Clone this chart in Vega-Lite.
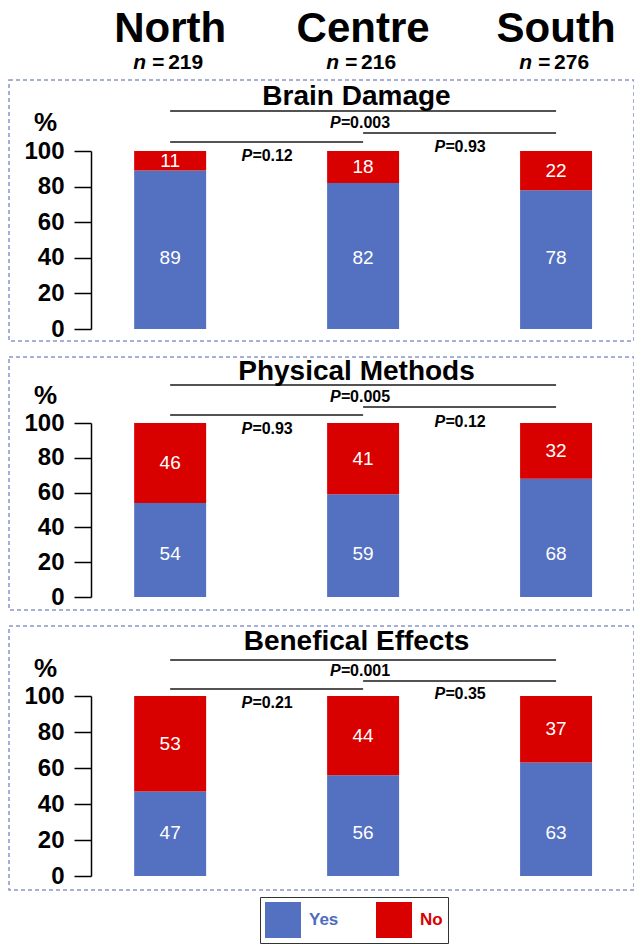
{
  "$schema": "https://vega.github.io/schema/vega-lite/v6.json",
  "padding": {"left": 8, "top": 0, "right": 0, "bottom": 0},
  "spacing": 16,
  "bounds": "flush",
  "config": {
    "font": "Liberation Sans",
    "view": {"stroke": "#8797cc", "strokeDash": [4, 3], "strokeWidth": 1.5},
    "axisX": {"disable": true},
    "axis": {"grid": false}
  },
  "resolve": {"scale": {"y": "independent", "color": "independent"}},
  "datasets": {
    "regions": [
      {"region": "North", "n": 219},
      {"region": "Centre", "n": 216},
      {"region": "South", "n": 276}
    ],
    "bars": [
      {"panel": "Brain Damage", "region": "North", "resp": "Yes", "pct": 89},
      {"panel": "Brain Damage", "region": "North", "resp": "No", "pct": 11},
      {"panel": "Brain Damage", "region": "Centre", "resp": "Yes", "pct": 82},
      {"panel": "Brain Damage", "region": "Centre", "resp": "No", "pct": 18},
      {"panel": "Brain Damage", "region": "South", "resp": "Yes", "pct": 78},
      {"panel": "Brain Damage", "region": "South", "resp": "No", "pct": 22},
      {"panel": "Physical Methods", "region": "North", "resp": "Yes", "pct": 54},
      {"panel": "Physical Methods", "region": "North", "resp": "No", "pct": 46},
      {"panel": "Physical Methods", "region": "Centre", "resp": "Yes", "pct": 59},
      {"panel": "Physical Methods", "region": "Centre", "resp": "No", "pct": 41},
      {"panel": "Physical Methods", "region": "South", "resp": "Yes", "pct": 68},
      {"panel": "Physical Methods", "region": "South", "resp": "No", "pct": 32},
      {"panel": "Benefical Effects", "region": "North", "resp": "Yes", "pct": 47},
      {"panel": "Benefical Effects", "region": "North", "resp": "No", "pct": 53},
      {"panel": "Benefical Effects", "region": "Centre", "resp": "Yes", "pct": 56},
      {"panel": "Benefical Effects", "region": "Centre", "resp": "No", "pct": 44},
      {"panel": "Benefical Effects", "region": "South", "resp": "Yes", "pct": 63},
      {"panel": "Benefical Effects", "region": "South", "resp": "No", "pct": 37}
    ],
    "pvals": [
      {"panel": "Brain Damage", "from": "North", "to": "Centre", "p": "0.12"},
      {"panel": "Brain Damage", "from": "Centre", "to": "South", "p": "0.93"},
      {"panel": "Brain Damage", "from": "North", "to": "South", "p": "0.003"},
      {"panel": "Physical Methods", "from": "North", "to": "Centre", "p": "0.93"},
      {"panel": "Physical Methods", "from": "Centre", "to": "South", "p": "0.12"},
      {"panel": "Physical Methods", "from": "North", "to": "South", "p": "0.005"},
      {"panel": "Benefical Effects", "from": "North", "to": "Centre", "p": "0.21"},
      {"panel": "Benefical Effects", "from": "Centre", "to": "South", "p": "0.35"},
      {"panel": "Benefical Effects", "from": "North", "to": "South", "p": "0.001"}
    ]
  },
  "vconcat": [
    {
      "width": 625,
      "height": 64,
      "view": {"stroke": null},
      "data": {"name": "regions"},
      "layer": [
        {
          "mark": {"type": "text", "fontSize": 42, "fontWeight": "bold", "baseline": "alphabetic", "dy": 10, "color": "black"},
          "encoding": {
            "x": {"field": "region", "type": "nominal", "scale": {"type": "band", "domain": ["North", "N-C", "Centre", "C-S", "South"], "paddingInner": 0.254, "paddingOuter": 0.866, "align": 0.749}},
            "text": {"field": "region"}
          }
        },
        {
          "mark": {"type": "text", "text": "n =", "fontSize": 21, "fontWeight": "bold", "fontStyle": "italic", "align": "right", "baseline": "alphabetic", "dx": -6, "dy": 37, "color": "black"},
          "encoding": {"x": {"field": "region", "type": "nominal"}}
        },
        {
          "mark": {"type": "text", "fontSize": 21, "fontWeight": "bold", "align": "left", "baseline": "alphabetic", "dx": -2, "dy": 37, "color": "black"},
          "encoding": {"x": {"field": "region", "type": "nominal"}, "text": {"field": "n"}}
        }
      ]
    },
    {
      "width": 625,
      "height": 261,
      "title": {"text": "Brain Damage", "anchor": "middle", "dx": 35, "offset": -53, "baseline": "alphabetic", "fontSize": 28, "fontWeight": "bold", "color": "black"},
      "layer": [
        {
          "data": {"name": "bars"},
          "transform": [{"filter": "datum.panel === 'Brain Damage'"}],
          "layer": [
            {
              "mark": {"type": "bar"},
              "encoding": {
                "x": {"field": "region", "type": "nominal", "scale": {"type": "band", "domain": ["North", "N-C", "Centre", "C-S", "South"], "paddingInner": 0.254, "paddingOuter": 0.866, "align": 0.749}},
                "y": {"field": "pct", "type": "quantitative", "stack": "zero",
                  "scale": {"domain": [0, 100], "range": [249, 71], "nice": false},
                  "axis": {"values": [0, 10, 20, 30, 40, 50, 60, 70, 80, 90, 100], "offset": -82, "domainColor": "black", "domainWidth": 1.5, "tickColor": "black", "tickWidth": 1.5, "tickSize": 17, "tickDash": {"condition": {"test": "datum.value % 20 !== 0", "value": [10, 20]}, "value": []}, "labelExpr": "datum.value % 20 === 0 ? datum.label : ''", "labelOverlap": false, "labelFontSize": 24, "labelFontWeight": "bold", "labelColor": "black", "labelPadding": 10, "title": "%", "titleAngle": 0, "titleFontSize": 26, "titleFontWeight": "bold", "titleColor": "black", "titleAlign": "center", "titleBaseline": "middle", "titleX": -46, "titleY": 42}},
                "color": {"field": "resp", "type": "nominal", "scale": {"domain": ["Yes", "No"], "range": ["#5470c1", "#d90000"]}, "legend": null},
                "order": {"field": "resp", "sort": "descending"}
              }
            },
            {
              "mark": {"type": "text", "fontSize": 19, "color": "white", "baseline": "middle"},
              "encoding": {
                "x": {"field": "region", "type": "nominal"},
                "y": {"field": "pct", "type": "quantitative", "stack": "zero", "bandPosition": 0.5},
                "detail": {"field": "resp"},
                "order": {"field": "resp", "sort": "descending"},
                "text": {"condition": {"test": "datum.resp === 'No'", "field": "pct", "type": "quantitative"}, "value": ""}
              }
            },
            {
              "transform": [{"filter": "datum.resp === 'Yes'"}],
              "mark": {"type": "text", "fontSize": 19, "color": "white", "baseline": "middle"},
              "encoding": {
                "x": {"field": "region", "type": "nominal"},
                "y": {"datum": 40},
                "text": {"field": "pct", "type": "quantitative"}
              }
            }
          ]
        },
        {
          "data": {"name": "pvals"},
          "transform": [{"filter": "datum.panel === 'Brain Damage' && datum.from === 'North' && datum.to === 'South'"}],
          "layer": [
            {"mark": {"type": "rule", "strokeWidth": 1.5, "color": "#1a1a1a"}, "encoding": {"x": {"field": "from", "type": "nominal"}, "x2": {"field": "to"}, "y": {"datum": 122.5}}},
            {"mark": {"type": "text", "text": "P=", "fontSize": 16, "fontWeight": "bold", "fontStyle": "italic", "align": "right", "baseline": "middle", "dx": -13, "color": "black"}, "encoding": {"x": {"datum": "Centre"}, "y": {"datum": 115.7}}},
            {"mark": {"type": "text", "fontSize": 16, "fontWeight": "bold", "align": "left", "baseline": "middle", "dx": -13, "color": "black"}, "encoding": {"x": {"datum": "Centre"}, "y": {"datum": 115.7}, "text": {"field": "p"}}}
          ]
        },
        {
          "data": {"name": "pvals"},
          "transform": [{"filter": "datum.panel === 'Brain Damage' && datum.from === 'Centre' && datum.to === 'South'"}],
          "layer": [
            {"mark": {"type": "rule", "strokeWidth": 1.5, "color": "#1a1a1a"}, "encoding": {"x": {"field": "from", "type": "nominal"}, "x2": {"field": "to"}, "y": {"datum": 110.1}}},
            {"mark": {"type": "text", "text": "P=", "fontSize": 16, "fontWeight": "bold", "fontStyle": "italic", "align": "right", "baseline": "middle", "dx": -5, "color": "black"}, "encoding": {"x": {"datum": "C-S"}, "y": {"datum": 102.2}}},
            {"mark": {"type": "text", "fontSize": 16, "fontWeight": "bold", "align": "left", "baseline": "middle", "dx": -5, "color": "black"}, "encoding": {"x": {"datum": "C-S"}, "y": {"datum": 102.2}, "text": {"field": "p"}}}
          ]
        },
        {
          "data": {"name": "pvals"},
          "transform": [{"filter": "datum.panel === 'Brain Damage' && datum.from === 'North' && datum.to === 'Centre'"}],
          "layer": [
            {"mark": {"type": "rule", "strokeWidth": 1.5, "color": "#1a1a1a"}, "encoding": {"x": {"field": "from", "type": "nominal"}, "x2": {"field": "to"}, "y": {"datum": 105.1}}},
            {"mark": {"type": "text", "text": "P=", "fontSize": 16, "fontWeight": "bold", "fontStyle": "italic", "align": "right", "baseline": "middle", "dx": -5, "color": "black"}, "encoding": {"x": {"datum": "N-C"}, "y": {"datum": 97.2}}},
            {"mark": {"type": "text", "fontSize": 16, "fontWeight": "bold", "align": "left", "baseline": "middle", "dx": -5, "color": "black"}, "encoding": {"x": {"datum": "N-C"}, "y": {"datum": 97.2}, "text": {"field": "p"}}}
          ]
        }
      ]
    },
    {
      "width": 625,
      "height": 253,
      "title": {"text": "Physical Methods", "anchor": "middle", "dx": 35, "offset": -51, "baseline": "alphabetic", "fontSize": 28, "fontWeight": "bold", "color": "black"},
      "layer": [
        {
          "data": {"name": "bars"},
          "transform": [{"filter": "datum.panel === 'Physical Methods'"}],
          "layer": [
            {
              "mark": {"type": "bar"},
              "encoding": {
                "x": {"field": "region", "type": "nominal", "scale": {"type": "band", "domain": ["North", "N-C", "Centre", "C-S", "South"], "paddingInner": 0.254, "paddingOuter": 0.866, "align": 0.749}},
                "y": {"field": "pct", "type": "quantitative", "stack": "zero",
                  "scale": {"domain": [0, 100], "range": [240, 66], "nice": false},
                  "axis": {"values": [0, 10, 20, 30, 40, 50, 60, 70, 80, 90, 100], "offset": -82, "domainColor": "black", "domainWidth": 1.5, "tickColor": "black", "tickWidth": 1.5, "tickSize": 17, "tickDash": {"condition": {"test": "datum.value % 20 !== 0", "value": [10, 20]}, "value": []}, "labelExpr": "datum.value % 20 === 0 ? datum.label : ''", "labelOverlap": false, "labelFontSize": 24, "labelFontWeight": "bold", "labelColor": "black", "labelPadding": 10, "title": "%", "titleAngle": 0, "titleFontSize": 26, "titleFontWeight": "bold", "titleColor": "black", "titleAlign": "center", "titleBaseline": "middle", "titleX": -46, "titleY": 38}},
                "color": {"field": "resp", "type": "nominal", "scale": {"domain": ["Yes", "No"], "range": ["#5470c1", "#d90000"]}, "legend": null},
                "order": {"field": "resp", "sort": "descending"}
              }
            },
            {
              "mark": {"type": "text", "fontSize": 19, "color": "white", "baseline": "middle"},
              "encoding": {
                "x": {"field": "region", "type": "nominal"},
                "y": {"field": "pct", "type": "quantitative", "stack": "zero", "bandPosition": 0.5},
                "detail": {"field": "resp"},
                "order": {"field": "resp", "sort": "descending"},
                "text": {"condition": {"test": "datum.resp === 'No'", "field": "pct", "type": "quantitative"}, "value": ""}
              }
            },
            {
              "transform": [{"filter": "datum.resp === 'Yes'"}],
              "mark": {"type": "text", "fontSize": 19, "color": "white", "baseline": "middle"},
              "encoding": {
                "x": {"field": "region", "type": "nominal"},
                "y": {"datum": 24.7},
                "text": {"field": "pct", "type": "quantitative"}
              }
            }
          ]
        },
        {
          "data": {"name": "pvals"},
          "transform": [{"filter": "datum.panel === 'Physical Methods' && datum.from === 'North' && datum.to === 'South'"}],
          "layer": [
            {"mark": {"type": "rule", "strokeWidth": 1.5, "color": "#1a1a1a"}, "encoding": {"x": {"field": "from", "type": "nominal"}, "x2": {"field": "to"}, "y": {"datum": 121.8}}},
            {"mark": {"type": "text", "text": "P=", "fontSize": 16, "fontWeight": "bold", "fontStyle": "italic", "align": "right", "baseline": "middle", "dx": -13, "color": "black"}, "encoding": {"x": {"datum": "Centre"}, "y": {"datum": 114.9}}},
            {"mark": {"type": "text", "fontSize": 16, "fontWeight": "bold", "align": "left", "baseline": "middle", "dx": -13, "color": "black"}, "encoding": {"x": {"datum": "Centre"}, "y": {"datum": 114.9}, "text": {"field": "p"}}}
          ]
        },
        {
          "data": {"name": "pvals"},
          "transform": [{"filter": "datum.panel === 'Physical Methods' && datum.from === 'Centre' && datum.to === 'South'"}],
          "layer": [
            {"mark": {"type": "rule", "strokeWidth": 1.5, "color": "#1a1a1a"}, "encoding": {"x": {"field": "from", "type": "nominal"}, "x2": {"field": "to"}, "y": {"datum": 109.2}}},
            {"mark": {"type": "text", "text": "P=", "fontSize": 16, "fontWeight": "bold", "fontStyle": "italic", "align": "right", "baseline": "middle", "dx": -5, "color": "black"}, "encoding": {"x": {"datum": "C-S"}, "y": {"datum": 100.6}}},
            {"mark": {"type": "text", "fontSize": 16, "fontWeight": "bold", "align": "left", "baseline": "middle", "dx": -5, "color": "black"}, "encoding": {"x": {"datum": "C-S"}, "y": {"datum": 100.6}, "text": {"field": "p"}}}
          ]
        },
        {
          "data": {"name": "pvals"},
          "transform": [{"filter": "datum.panel === 'Physical Methods' && datum.from === 'North' && datum.to === 'Centre'"}],
          "layer": [
            {"mark": {"type": "rule", "strokeWidth": 1.5, "color": "#1a1a1a"}, "encoding": {"x": {"field": "from", "type": "nominal"}, "x2": {"field": "to"}, "y": {"datum": 104.6}}},
            {"mark": {"type": "text", "text": "P=", "fontSize": 16, "fontWeight": "bold", "fontStyle": "italic", "align": "right", "baseline": "middle", "dx": -5, "color": "black"}, "encoding": {"x": {"datum": "N-C"}, "y": {"datum": 96.6}}},
            {"mark": {"type": "text", "fontSize": 16, "fontWeight": "bold", "align": "left", "baseline": "middle", "dx": -5, "color": "black"}, "encoding": {"x": {"datum": "N-C"}, "y": {"datum": 96.6}, "text": {"field": "p"}}}
          ]
        }
      ]
    },
    {
      "width": 625,
      "height": 264,
      "title": {"text": "Benefical Effects", "anchor": "middle", "dx": 35, "offset": -52, "baseline": "alphabetic", "fontSize": 28, "fontWeight": "bold", "color": "black"},
      "layer": [
        {
          "data": {"name": "bars"},
          "transform": [{"filter": "datum.panel === 'Benefical Effects'"}],
          "layer": [
            {
              "mark": {"type": "bar"},
              "encoding": {
                "x": {"field": "region", "type": "nominal", "scale": {"type": "band", "domain": ["North", "N-C", "Centre", "C-S", "South"], "paddingInner": 0.254, "paddingOuter": 0.866, "align": 0.749}},
                "y": {"field": "pct", "type": "quantitative", "stack": "zero",
                  "scale": {"domain": [0, 100], "range": [250, 70], "nice": false},
                  "axis": {"values": [0, 10, 20, 30, 40, 50, 60, 70, 80, 90, 100], "offset": -82, "domainColor": "black", "domainWidth": 1.5, "tickColor": "black", "tickWidth": 1.5, "tickSize": 17, "tickDash": {"condition": {"test": "datum.value % 20 !== 0", "value": [10, 20]}, "value": []}, "labelExpr": "datum.value % 20 === 0 ? datum.label : ''", "labelOverlap": false, "labelFontSize": 24, "labelFontWeight": "bold", "labelColor": "black", "labelPadding": 10, "title": "%", "titleAngle": 0, "titleFontSize": 26, "titleFontWeight": "bold", "titleColor": "black", "titleAlign": "center", "titleBaseline": "middle", "titleX": -46, "titleY": 42}},
                "color": {"field": "resp", "type": "nominal", "scale": {"domain": ["Yes", "No"], "range": ["#5470c1", "#d90000"]},
                  "legend": {"orient": "none", "legendX": 251, "legendY": 271, "direction": "horizontal", "title": null, "symbolType": "square", "symbolSize": 1296, "symbolStrokeWidth": 0, "symbolOpacity": 1, "labelFontSize": 17, "labelFontWeight": "bold", "labelOffset": 8, "columnPadding": 37, "gridAlign": "all", "padding": 5, "strokeColor": "#333333", "labelColor": {"expr": "datum.value === 'Yes' ? '#4d6bbf' : '#d90000'"}}},
                "order": {"field": "resp", "sort": "descending"}
              }
            },
            {
              "mark": {"type": "text", "fontSize": 19, "color": "white", "baseline": "middle"},
              "encoding": {
                "x": {"field": "region", "type": "nominal"},
                "y": {"field": "pct", "type": "quantitative", "stack": "zero", "bandPosition": 0.5},
                "detail": {"field": "resp"},
                "order": {"field": "resp", "sort": "descending"},
                "text": {"condition": {"test": "datum.resp === 'No'", "field": "pct", "type": "quantitative"}, "value": ""}
              }
            },
            {
              "transform": [{"filter": "datum.resp === 'Yes'"}],
              "mark": {"type": "text", "fontSize": 19, "color": "white", "baseline": "middle"},
              "encoding": {
                "x": {"field": "region", "type": "nominal"},
                "y": {"datum": 24},
                "text": {"field": "pct", "type": "quantitative"}
              }
            }
          ]
        },
        {
          "data": {"name": "pvals"},
          "transform": [{"filter": "datum.panel === 'Benefical Effects' && datum.from === 'North' && datum.to === 'South'"}],
          "layer": [
            {"mark": {"type": "rule", "strokeWidth": 1.5, "color": "#1a1a1a"}, "encoding": {"x": {"field": "from", "type": "nominal"}, "x2": {"field": "to"}, "y": {"datum": 120}}},
            {"mark": {"type": "text", "text": "P=", "fontSize": 16, "fontWeight": "bold", "fontStyle": "italic", "align": "right", "baseline": "middle", "dx": -13, "color": "black"}, "encoding": {"x": {"datum": "Centre"}, "y": {"datum": 113.9}}},
            {"mark": {"type": "text", "fontSize": 16, "fontWeight": "bold", "align": "left", "baseline": "middle", "dx": -13, "color": "black"}, "encoding": {"x": {"datum": "Centre"}, "y": {"datum": 113.9}, "text": {"field": "p"}}}
          ]
        },
        {
          "data": {"name": "pvals"},
          "transform": [{"filter": "datum.panel === 'Benefical Effects' && datum.from === 'Centre' && datum.to === 'South'"}],
          "layer": [
            {"mark": {"type": "rule", "strokeWidth": 1.5, "color": "#1a1a1a"}, "encoding": {"x": {"field": "from", "type": "nominal"}, "x2": {"field": "to"}, "y": {"datum": 108.3}}},
            {"mark": {"type": "text", "text": "P=", "fontSize": 16, "fontWeight": "bold", "fontStyle": "italic", "align": "right", "baseline": "middle", "dx": -5, "color": "black"}, "encoding": {"x": {"datum": "C-S"}, "y": {"datum": 101.1}}},
            {"mark": {"type": "text", "fontSize": 16, "fontWeight": "bold", "align": "left", "baseline": "middle", "dx": -5, "color": "black"}, "encoding": {"x": {"datum": "C-S"}, "y": {"datum": 101.1}, "text": {"field": "p"}}}
          ]
        },
        {
          "data": {"name": "pvals"},
          "transform": [{"filter": "datum.panel === 'Benefical Effects' && datum.from === 'North' && datum.to === 'Centre'"}],
          "layer": [
            {"mark": {"type": "rule", "strokeWidth": 1.5, "color": "#1a1a1a"}, "encoding": {"x": {"field": "from", "type": "nominal"}, "x2": {"field": "to"}, "y": {"datum": 103.9}}},
            {"mark": {"type": "text", "text": "P=", "fontSize": 16, "fontWeight": "bold", "fontStyle": "italic", "align": "right", "baseline": "middle", "dx": -5, "color": "black"}, "encoding": {"x": {"datum": "N-C"}, "y": {"datum": 96.1}}},
            {"mark": {"type": "text", "fontSize": 16, "fontWeight": "bold", "align": "left", "baseline": "middle", "dx": -5, "color": "black"}, "encoding": {"x": {"datum": "N-C"}, "y": {"datum": 96.1}, "text": {"field": "p"}}}
          ]
        }
      ]
    }
  ]
}
